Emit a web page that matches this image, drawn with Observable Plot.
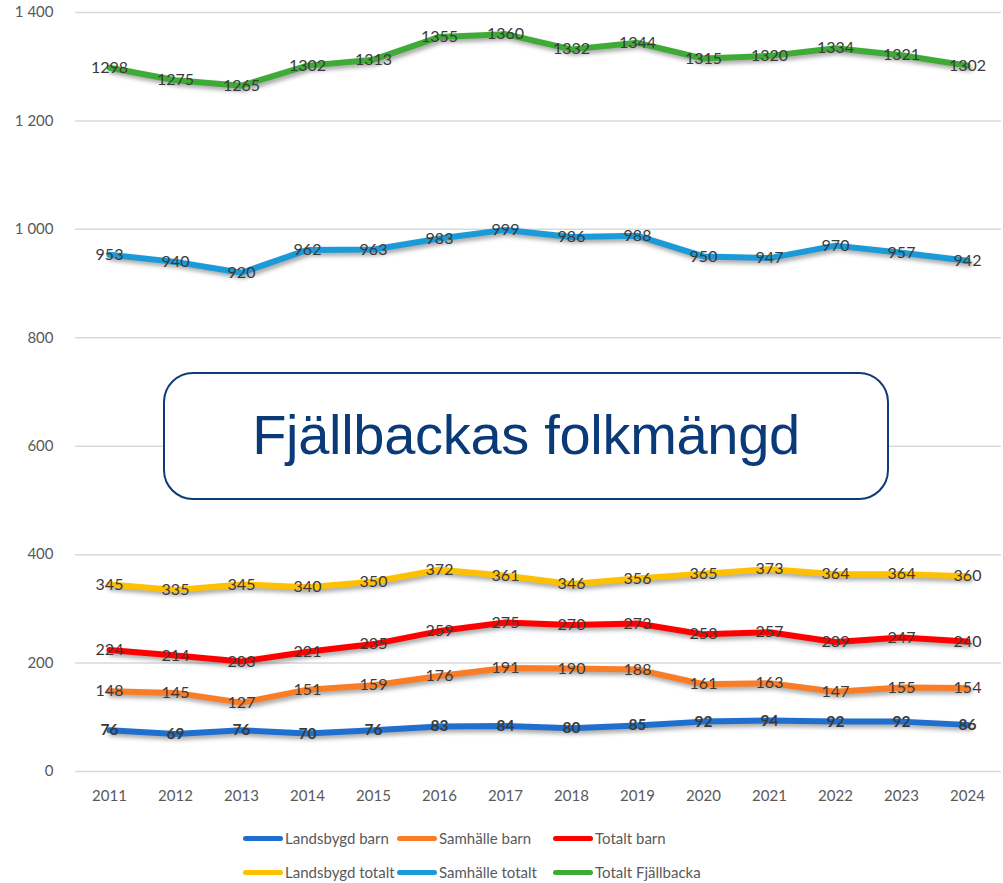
<!DOCTYPE html>
<html>
<head>
<meta charset="utf-8">
<script src="https://cdn.jsdelivr.net/npm/d3@7"></script>
<script src="https://cdn.jsdelivr.net/npm/@observablehq/plot@0.6"></script>
<style>
  html, body { margin: 0; padding: 0; background: #fff; }
  #wrap { position: relative; width: 1003px; height: 883px; font-family: Lato, "Open Sans", sans-serif; }
  #wrap svg g[aria-label="line"] { filter: drop-shadow(2px 3px 2px rgba(0,0,0,0.35)); }
  #title {
    position: absolute; left: 163px; top: 372px; width: 722px; height: 120px;
    border: 2px solid #0d3b77; border-radius: 30px; background: #fff;
    display: flex; align-items: center; justify-content: center;
    font-family: "Liberation Sans", Arial, sans-serif; font-size: 56px; color: #0a3a78;
    padding-bottom: 4px; box-sizing: content-box; letter-spacing: -0.3px;
  }
  .leg { position: absolute; display: flex; align-items: center; font-size: 15px; color: #595959; white-space: nowrap; }
  .sw { display: inline-block; width: 40px; height: 5px; border-radius: 3px; margin-right: 2px; }
</style>
</head>
<body>
<div id="wrap"></div>
<script>
const years = [2011,2012,2013,2014,2015,2016,2017,2018,2019,2020,2021,2022,2023,2024];
const seriesNames = ["Landsbygd barn","Samhälle barn","Totalt barn","Landsbygd totalt","Samhälle totalt","Totalt Fjällbacka"];
const seriesColors = ["#1f6fcf","#f97d27","#ff0000","#ffc000","#1b9ad8","#3fab37"];
const landsbygdBarn   = [76,69,76,70,76,83,84,80,85,92,94,92,92,86];
const samhalleBarn    = [148,145,127,151,159,176,191,190,188,161,163,147,155,154];
const totaltBarn      = [224,214,203,221,235,259,275,270,273,253,257,239,247,240];
const landsbygdTotalt = [345,335,345,340,350,372,361,346,356,365,373,364,364,360];
const samhalleTotalt  = [953,940,920,962,963,983,999,986,988,950,947,970,957,942];
const totaltFjallbacka= [1298,1275,1265,1302,1313,1355,1360,1332,1344,1315,1320,1334,1321,1302];
const yTicks = [0,200,400,600,800,1000,1200,1400];
const titleText = "Fjällbackas folkmängd";

const seriesValues = [landsbygdBarn, samhalleBarn, totaltBarn, landsbygdTotalt, samhalleTotalt, totaltFjallbacka];
const data = [];
seriesNames.forEach((s, i) => years.forEach((y, j) => data.push({series: s, year: String(y), value: seriesValues[i][j], bold: i === 0})));

const fmt = d3.formatLocale({decimal: ",", thousands: " ", grouping: [3], currency: ["", " kr"]}).format(",d");

const chart = Plot.plot({
  width: 1003,
  height: 815,
  marginLeft: 75,
  marginRight: 2,
  marginTop: 12,
  marginBottom: 44,
  style: {fontFamily: "Lato, 'Open Sans', sans-serif", color: "#595959", background: "#fff", overflow: "visible"},
  x: {type: "point", domain: years.map(String), padding: 0.5},
  y: {domain: [0, 1400]},
  color: {domain: seriesNames, range: seriesColors},
  marks: [
    Plot.ruleY(yTicks, {stroke: "#d9d9d9", strokeWidth: 1.5}),
    Plot.axisY({ticks: yTicks, tickSize: 0, tickPadding: 22, tickFormat: fmt, fontSize: 15, label: null}),
    Plot.axisX({tickSize: 0, tickPadding: 19, fontSize: 15, label: null}),
    Plot.line(data, {x: "year", y: "value", z: "series", stroke: "series", strokeWidth: 6, strokeLinejoin: "round", strokeLinecap: "round"}),
    Plot.text(data.filter(d => !d.bold), {x: "year", y: "value", text: d => String(d.value), fill: "#3a3a3a", fontSize: 16}),
    Plot.text(data.filter(d => d.bold), {x: "year", y: "value", text: d => String(d.value), fill: "#3a3a3a", fontSize: 15.5, fontWeight: "bold"})
  ]
});

const wrap = document.getElementById("wrap");
wrap.appendChild(chart);

const title = document.createElement("div");
title.id = "title";
title.textContent = titleText;
wrap.appendChild(title);

const legLeft = [243, 397, 553];
const legTop = [838, 872];
seriesNames.forEach((s, i) => {
  const el = document.createElement("div");
  el.className = "leg";
  el.style.left = legLeft[i % 3] + "px";
  el.style.top = (legTop[Math.floor(i / 3)] - 10) + "px";
  el.style.height = "20px";
  const sw = document.createElement("span");
  sw.className = "sw";
  sw.style.background = seriesColors[i];
  el.appendChild(sw);
  el.appendChild(document.createTextNode(s));
  wrap.appendChild(el);
});
</script>
</body>
</html>
